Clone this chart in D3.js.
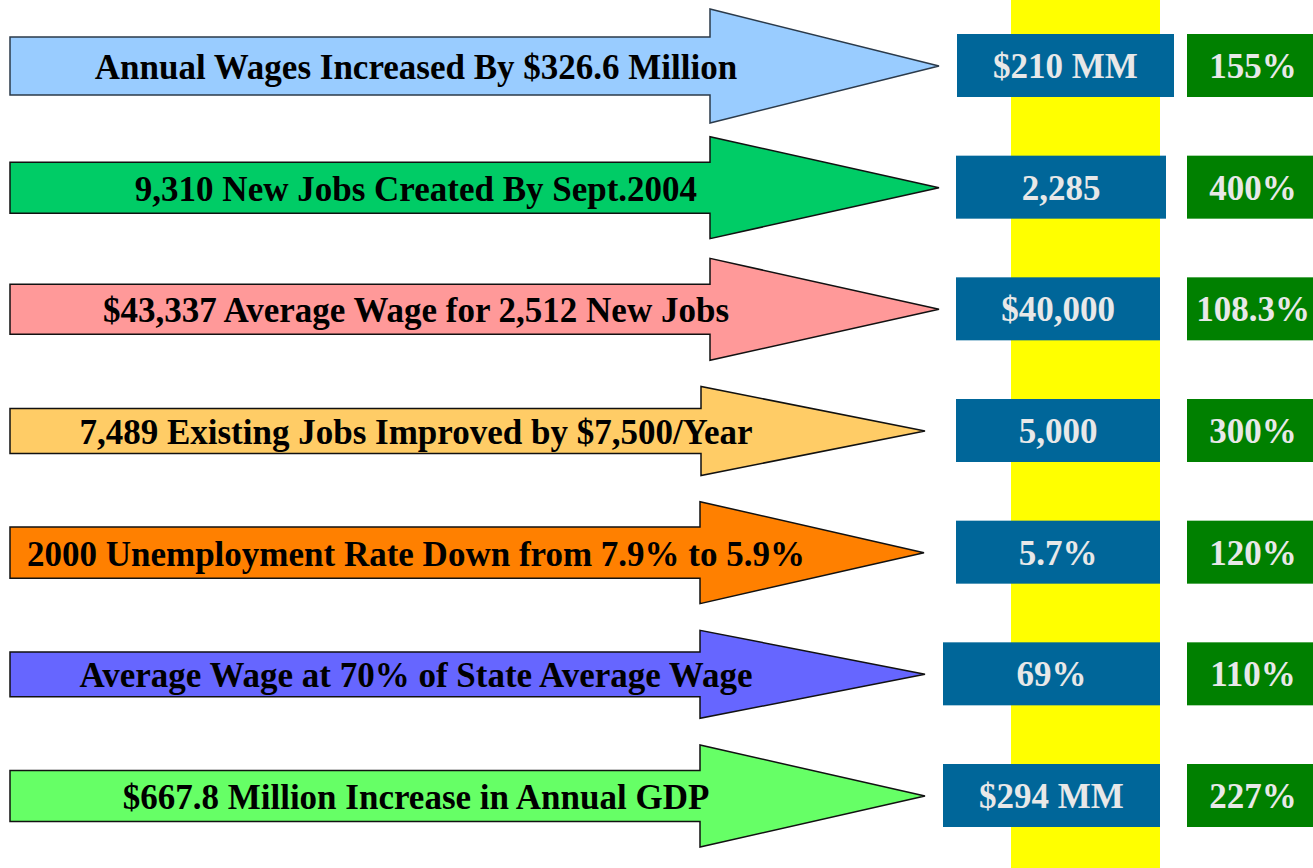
<!DOCTYPE html>
<html>
<head>
<meta charset="utf-8">
<script src="https://cdn.jsdelivr.net/npm/d3@7"></script>
<style>
  body { margin: 0; background: #fff; }
  svg { display: block; }
  text { font-family: "Liberation Serif", "Times New Roman", serif; font-weight: bold; }
</style>
</head>
<body>
<div id="chart"></div>
<script>
// data
const labels = [
  "Annual Wages Increased By $326.6 Million",
  "9,310 New Jobs Created By Sept.2004",
  "$43,337 Average Wage for 2,512 New Jobs",
  "7,489 Existing Jobs Improved by $7,500/Year",
  "2000 Unemployment Rate Down from 7.9% to 5.9%",
  "Average Wage at 70% of State Average Wage",
  "$667.8 Million Increase in Annual GDP"
];
const targets = ["$210 MM", "2,285", "$40,000", "5,000", "5.7%", "69%", "$294 MM"];
const percents = ["155%", "400%", "108.3%", "300%", "120%", "110%", "227%"];
const arrowColors = ["#99ccff", "#00cc66", "#ff9999", "#ffcc66", "#ff8000", "#6666ff", "#66ff66"];

// per-row arrow shape (shaft half height, head half height, head start, tip)
const arrowShape = [
  [29, 57, 710, 939], [25.5, 51, 710, 939], [25, 51, 710, 939],
  [22.5, 44.5, 701, 925], [25.7, 51, 700, 924], [22.4, 44, 700, 925], [25.5, 51, 700, 925]
];
// per-row blue box left/right edges
const boxEdges = [[957, 1174], [956, 1166], [956, 1160], [956, 1160], [956, 1160], [943, 1160], [943, 1160]];

const w = 1313, h = 868;

const svg = d3.select("#chart")
              .append("svg")
              .attr("width", w)
              .attr("height", h);

const rows = d3.range(labels.length);
const yScale = d3.scalePoint()
                 .domain(rows)
                 .range([66, 796]);

// yellow column behind the target boxes
svg.append("rect")
   .attr("x", 1011)
   .attr("y", 0)
   .attr("width", 149)
   .attr("height", h)
   .attr("fill", "#ffff00");

// arrows
const arrowPath = (i) => {
  const cy = yScale(i);
  const [sh, hh, hx, tip] = arrowShape[i];
  const x0 = 10;
  return `M${x0},${cy - sh} L${hx},${cy - sh} L${hx},${cy - hh} L${tip},${cy} ` +
         `L${hx},${cy + hh} L${hx},${cy + sh} L${x0},${cy + sh} Z`;
};

svg.selectAll("path.arrow")
   .data(rows)
   .enter()
   .append("path")
   .attr("class", "arrow")
   .attr("d", d => arrowPath(d))
   .attr("fill", d => arrowColors[d])
   .attr("stroke", d => d === 0 ? "#2b3a4a" : "#111")
   .attr("stroke-width", 1.5)
   .attr("stroke-linejoin", "miter");

svg.selectAll("text.label")
   .data(rows)
   .enter()
   .append("text")
   .attr("class", "label")
   .attr("x", 416)
   .attr("y", d => yScale(d) + 13)
   .attr("text-anchor", "middle")
   .attr("font-size", 35)
   .attr("fill", "#000")
   .text(d => labels[d]);

// target boxes
svg.selectAll("rect.target")
   .data(rows)
   .enter()
   .append("rect")
   .attr("class", "target")
   .attr("x", d => boxEdges[d][0])
   .attr("y", d => yScale(d) - 32)
   .attr("width", d => boxEdges[d][1] - boxEdges[d][0])
   .attr("height", 63)
   .attr("fill", "#006699");

svg.selectAll("text.target")
   .data(rows)
   .enter()
   .append("text")
   .attr("class", "target")
   .attr("x", d => (boxEdges[d][0] + boxEdges[d][1]) / 2)
   .attr("y", d => yScale(d) + 12)
   .attr("text-anchor", "middle")
   .attr("font-size", 35)
   .attr("fill", "#e8e8e8")
   .text(d => targets[d]);

// percent boxes
svg.selectAll("rect.pct")
   .data(rows)
   .enter()
   .append("rect")
   .attr("class", "pct")
   .attr("x", 1187)
   .attr("y", d => yScale(d) - 32)
   .attr("width", 133)
   .attr("height", 63)
   .attr("fill", "#008000");

svg.selectAll("text.pct")
   .data(rows)
   .enter()
   .append("text")
   .attr("class", "pct")
   .attr("x", 1253)
   .attr("y", d => yScale(d) + 12)
   .attr("text-anchor", "middle")
   .attr("font-size", 35)
   .attr("fill", "#e8e8e8")
   .text(d => percents[d]);
</script>
</body>
</html>
